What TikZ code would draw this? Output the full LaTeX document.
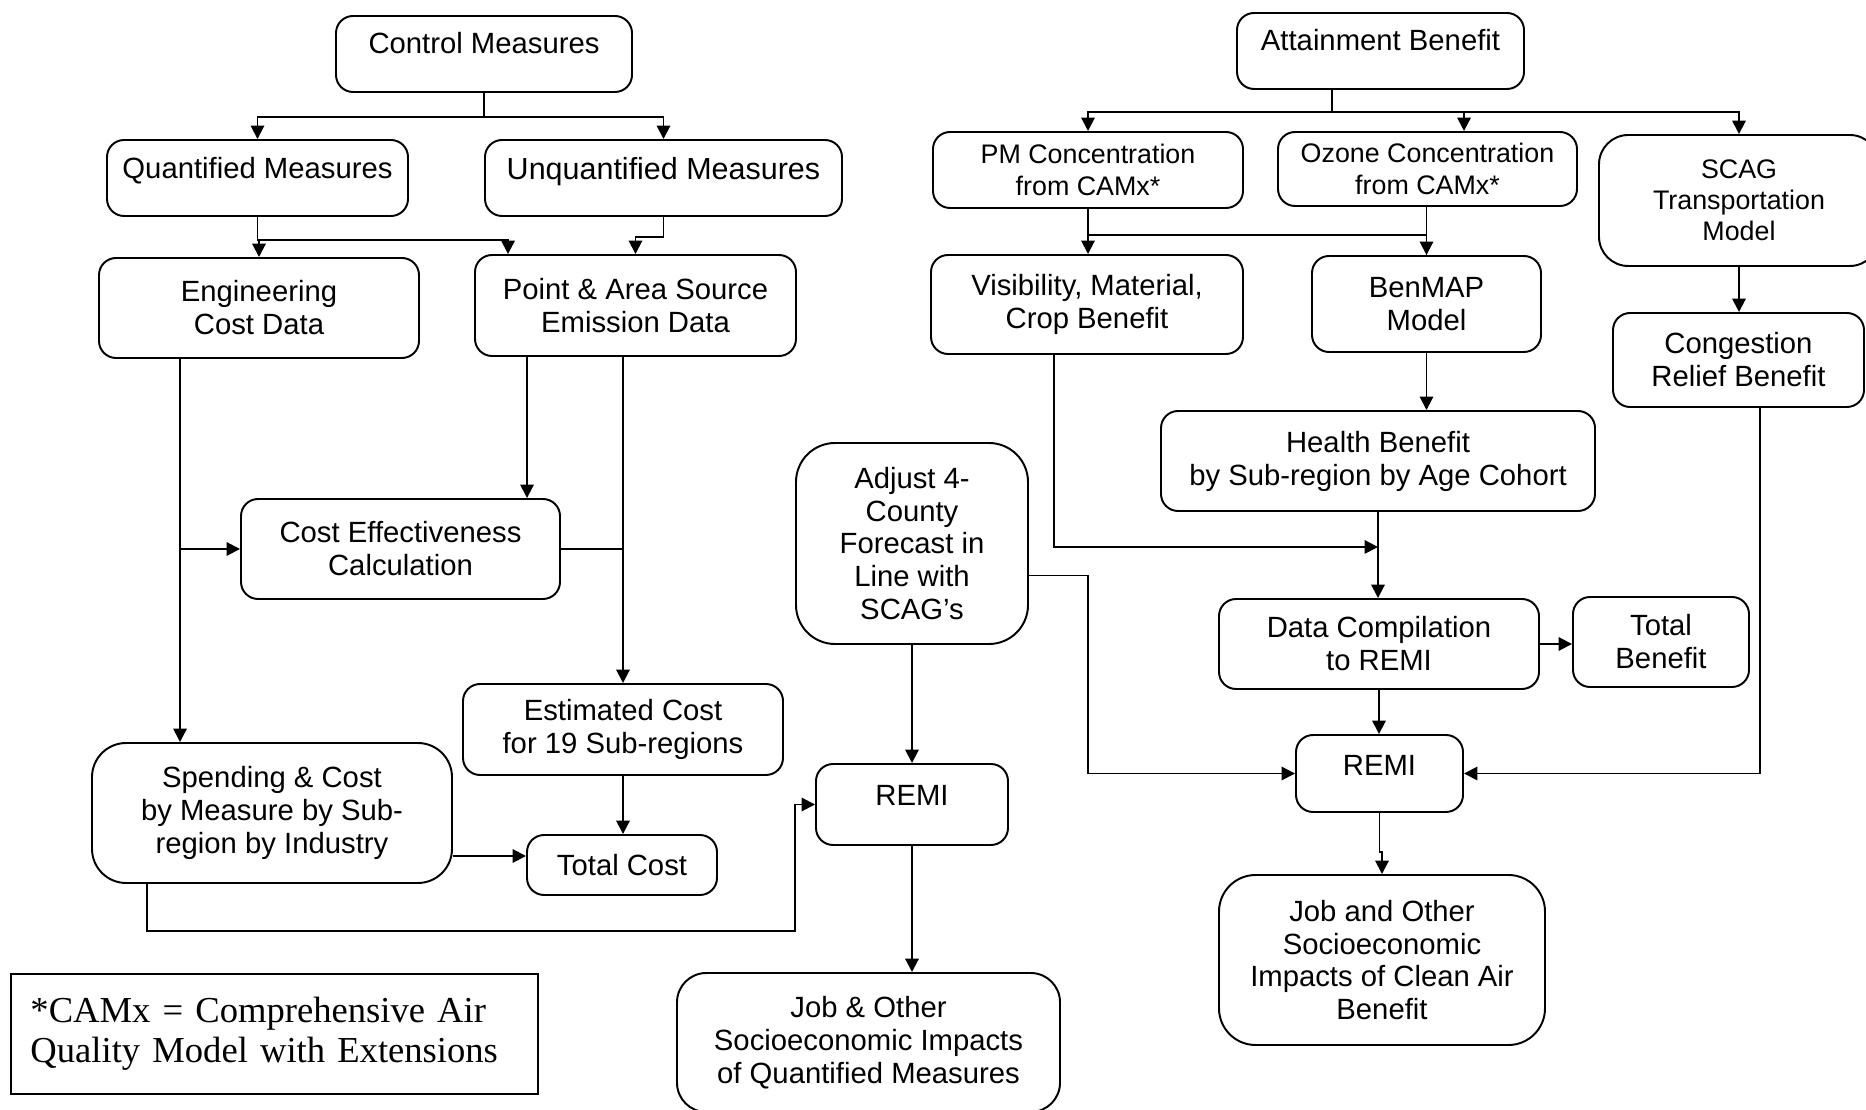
\documentclass[tikz,border=0pt]{standalone}
\usepackage{fontspec}
\setmainfont{Liberation Sans}
\newfontfamily\legendfont{Liberation Serif}
\usetikzlibrary{arrows.meta, calc}

\begin{document}
\begin{tikzpicture}[x=0.41pt, y=-0.41pt, thick,
  box/.style={draw, rectangle, rounded corners=7pt, align=center, inner sep=2pt,
    font=\fontsize{12}{13.5}\selectfont},
  smalltext/.style={font=\fontsize{11}{12.8}\selectfont},
  boxsize/.style 2 args={minimum width=#1*0.41pt, minimum height=#2*0.41pt},
  toptext/.style={text height=8.7pt, text depth=#1},
  arr/.style={-{Triangle[length=5.5pt, width=5.5pt]}}]
  \useasboundingbox (0,0) rectangle (1866,1110);
  \clip (0,0) rectangle (1866,1110);

  % Cost side: control measures
  \node[box, boxsize={296}{76}, toptext=9pt] (cm) at (484,54) {Control Measures};
  \node[box, boxsize={301}{76}, toptext=8.2pt] (quant) at (257.5,178) {Quantified Measures};
  \node[box, boxsize={357}{76}, toptext=7.4pt, font=\fontsize{12.5}{14}\selectfont] (unquant) at (663.5,178) {Unquantified Measures};
  \node[box, boxsize={320}{100}] (eng) at (259,308) {Engineering\\Cost Data};
  \node[box, boxsize={321}{101}] (pa) at (635.5,305.5) {Point \& Area Source\\Emission Data};
  \node[box, boxsize={319}{100}] (ce) at (400.5,549) {Cost Effectiveness\\Calculation};
  \node[box, boxsize={320}{91}] (est) at (623,729.5) {Estimated Cost\\for 19 Sub-regions};
  \node[box, boxsize={360}{140}, rounded corners=14pt] (spend) at (272,813) {Spending \& Cost\\by Measure by Sub-\\region by Industry};
  \node[box, boxsize={190}{60}] (tcost) at (622,865) {Total Cost};

  % Legend
  \node[draw, anchor=west, align=left, text width=200pt, inner sep=8pt, minimum height=120*0.41pt,
    font=\legendfont\fontsize{15}{16.4}\selectfont] (legend) at (10,1034)
    {*CAMx = Comprehensive Air\\Quality Model with Extensions};

  % Middle: forecast and REMI for quantified measures
  \node[box, boxsize={232}{201}, rounded corners=16pt] (adjust) at (912,543.5) {Adjust 4-\\County\\Forecast in\\Line with\\SCAG’s};
  \node[box, boxsize={192}{81}, toptext=7.8pt] (remi1) at (912,804.5) {REMI};
  \node[box, boxsize={383}{139}, rounded corners=12pt] (jobl) at (868.5,1042.5) {Job \& Other\\Socioeconomic Impacts\\of Quantified Measures};

  % Benefit side: attainment benefit
  \node[box, boxsize={287}{76}, toptext=9pt] (attain) at (1380.5,51) {Attainment Benefit};
  \node[box, smalltext, boxsize={310}{76}] (pm) at (1088,170) {PM Concentration\\from CAMx*};
  \node[box, smalltext, boxsize={299}{74}] (ozone) at (1427.5,169) {Ozone Concentration\\from CAMx*};
  \node[box, smalltext, boxsize={280}{131}, rounded corners=12pt] (scag) at (1739,200.5) {SCAG\\Transportation\\Model};
  \node[box, boxsize={312}{99}] (vis) at (1087,304.5) {Visibility, Material,\\Crop Benefit};
  \node[box, boxsize={229}{96}] (benmap) at (1426.5,304) {BenMAP\\Model};
  \node[box, boxsize={251}{94}] (cong) at (1738.5,360) {Congestion\\Relief Benefit};
  \node[box, boxsize={434}{100}] (health) at (1378,461) {Health Benefit\\by Sub-region by Age Cohort};
  \node[box, boxsize={320}{90}] (dc) at (1379,644) {Data Compilation\\to REMI};
  \node[box, boxsize={176}{90}] (tb) at (1661,642) {Total\\Benefit};
  \node[box, boxsize={167}{77}, toptext=7pt] (remi2) at (1379.5,773.5) {REMI};
  \node[box, boxsize={326}{170}, rounded corners=15pt] (jobr) at (1382,960) {Job and Other\\Socioeconomic\\Impacts of Clean Air\\Benefit};

  % Cost side connectors
  \draw[arr] (cm.south) -- ++(0,24) coordinate (csplit) -| (quant.north);
  \draw[arr] (csplit) -| (unquant.north);
  \draw[arr] (quant.south) -- ++(0,23) coordinate (qsplit) -| (eng.north);
  \draw[arr] (qsplit) -| ($(pa.north west)+(34,0)$);
  \draw[arr] (unquant.south) -- ++(0,20) -| (pa.north);
  \draw[arr] ($(eng.south west)+(82,0)$) coordinate (edrop) -- (edrop |- spend.north);
  \draw[arr] (edrop |- ce.west) -- (ce.west);
  \draw[arr] ($(pa.south west)+(53,0)$) coordinate (pdrop) -- (pdrop |- ce.north);
  \draw[arr] (pa.south -| est.north) -- (est.north);
  \draw (ce.east) -- (ce.east -| est.north);
  \draw[arr] (est.south) -- (est.south |- tcost.north);
  \coordinate (tcin) at ($(tcost.west)+(0,-9)$);
  \draw[arr] (tcin -| spend.east) -- (tcin);
  \draw[arr] ($(spend.south west)+(56,0)$) -- ++(0,47) -| ($(remi1.west)+(-20,0)$) -- (remi1.west);

  % Middle connectors
  \draw[arr] (adjust.south) -- (remi1.north);
  \draw[arr] (remi1.south) -- (remi1.south |- jobl.north);
  \draw[arr] ($(adjust.east)+(0,32)$) -- ++(59,0) |- (remi2.west);

  % Benefit side connectors
  \draw ($(attain.south west)+(96,0)$) -- ++(0,22) coordinate (asplit);
  \draw[arr] (asplit) -| (pm.north);
  \draw[arr] (asplit) -| ($(ozone.north west)+(187,0)$);
  \draw[arr] (asplit) -| (scag.north);
  \draw[arr] (pm.south) -- (pm.south |- vis.north);
  \draw[arr] (pm.south) -- ++(0,26) -| (benmap.north);
  \draw (ozone.south -| benmap.north) -- (benmap.north);
  \draw[arr] (scag.south) -- (scag.south |- cong.north);
  \draw[arr] (benmap.south) -- (benmap.south |- health.north);
  \draw[arr] ($(vis.south west)+(124,0)$) |- ($(health.south)+(0,35)$);
  \draw[arr] (health.south) -- (health.south |- dc.north);
  \draw[arr] (dc.east) -- (dc.east -| tb.west);
  \draw[arr] (dc.south) -- (dc.south |- remi2.north);
  \draw[arr] ($(cong.south west)+(148,0)$) |- (remi2.east);
  \draw[arr] (remi2.south) -- ++(0,39) -| (jobr.north);
\end{tikzpicture}
\end{document}
